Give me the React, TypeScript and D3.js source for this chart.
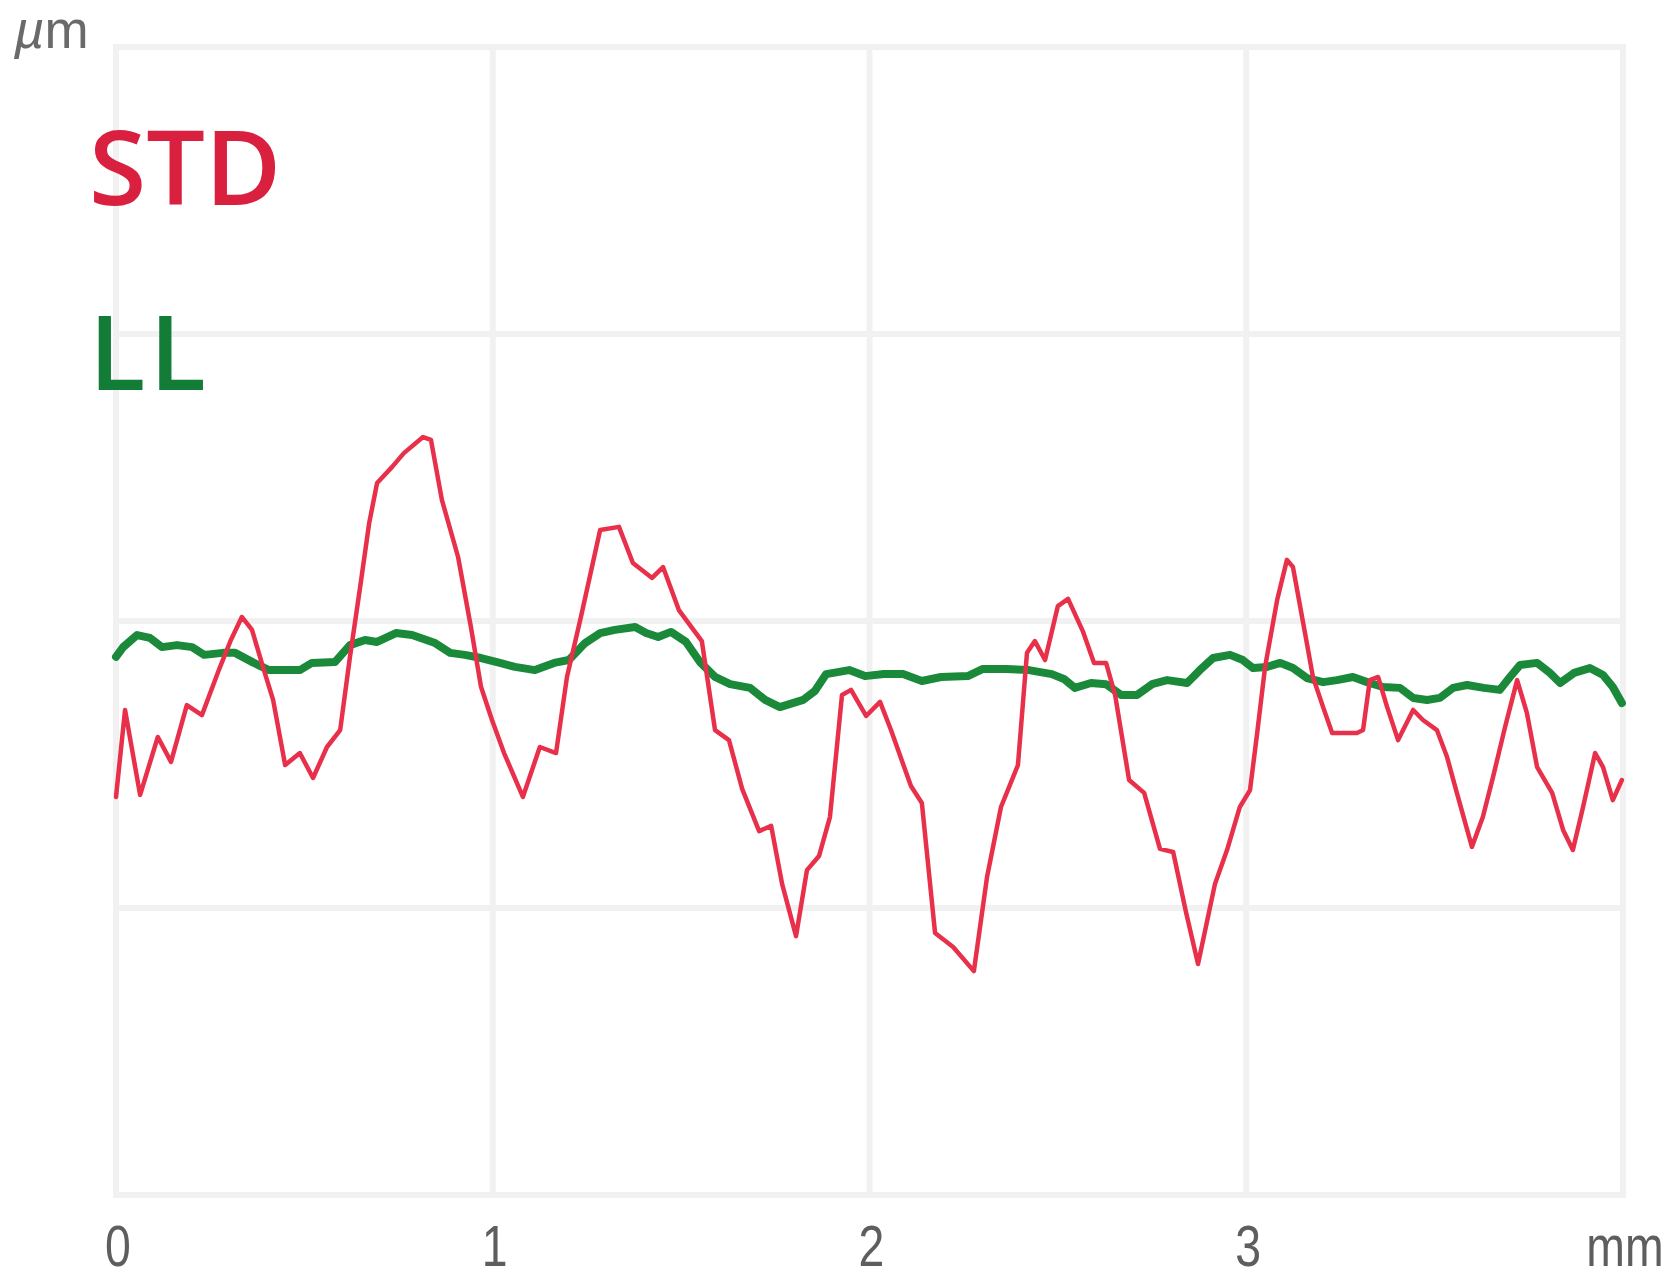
import React from "react";
import * as d3 from "d3";

const xTicks = [0, 1, 2, 3, 4];
const xTickLabels = ["0", "1", "2", "3", "mm"];
const yTicks = [-2, -1, 0, 1, 2];
const yUnit = "m";

const seriesNames = ["STD", "LL"];

// STD profile: [x in mm, height in µm]
const stdX = [
  0, 0.024, 0.064, 0.111, 0.146, 0.188, 0.228, 0.273, 0.305, 0.334, 0.361, 0.39, 0.417, 0.449, 0.488, 0.523,
  0.56, 0.595, 0.621, 0.648, 0.672, 0.693, 0.733, 0.764, 0.815, 0.836, 0.865, 0.908, 0.942, 0.969, 0.998,
  1.03, 1.08, 1.125, 1.168, 1.197, 1.234, 1.285, 1.335, 1.372, 1.423, 1.452, 1.494, 1.555, 1.59, 1.627,
  1.662, 1.707, 1.739, 1.768, 1.805, 1.834, 1.866, 1.895, 1.927, 1.951, 1.991, 2.028, 2.057, 2.11, 2.139,
  2.174, 2.222, 2.277, 2.312, 2.349, 2.394, 2.418, 2.439, 2.466, 2.5, 2.527, 2.567, 2.596, 2.628, 2.652,
  2.689, 2.729, 2.771, 2.806, 2.84, 2.872, 2.917, 2.949, 2.983, 3.01, 3.029, 3.05, 3.082, 3.108, 3.124,
  3.156, 3.177, 3.204, 3.228, 3.294, 3.31, 3.328, 3.35, 3.374, 3.403, 3.443, 3.469, 3.506, 3.533, 3.559,
  3.599, 3.628, 3.655, 3.687, 3.719, 3.745, 3.772, 3.812, 3.841, 3.867, 3.894, 3.926, 3.947, 3.973, 3.997,
];
const stdY = [
  -0.613, -0.31, -0.606, -0.404, -0.491, -0.293, -0.328, -0.171, -0.066, 0.014, -0.031, -0.16, -0.275, -0.502,
  -0.46, -0.547, -0.439, -0.38, -0.125, 0.118, 0.341, 0.481, 0.537, 0.585, 0.641, 0.631, 0.422, 0.223, -0.021,
  -0.23, -0.345, -0.46, -0.613, -0.439, -0.46, -0.195, 0.014, 0.317, 0.328, 0.202, 0.15, 0.188, 0.038, -0.07,
  -0.38, -0.415, -0.585, -0.732, -0.714, -0.916, -1.098, -0.868, -0.819, -0.683, -0.258, -0.24, -0.331, -0.282,
  -0.38, -0.575, -0.634, -1.087, -1.136, -1.22, -0.892, -0.648, -0.502, -0.111, -0.07, -0.136, 0.052, 0.077,
  -0.038, -0.146, -0.146, -0.258, -0.554, -0.599, -0.794, -0.805, -1.014, -1.195, -0.916, -0.798, -0.648,
  -0.589, -0.39, -0.16, 0.073, 0.213, 0.188, -0.042, -0.195, -0.3, -0.39, -0.39, -0.38, -0.206, -0.195, -0.3,
  -0.415, -0.31, -0.345, -0.38, -0.474, -0.599, -0.787, -0.683, -0.544, -0.369, -0.206, -0.321, -0.509, -0.599,
  -0.728, -0.798, -0.648, -0.46, -0.509, -0.624, -0.554,
];

// LL profile: [x in mm, height in µm]
const llX = [
  0, 0.019, 0.056, 0.09, 0.122, 0.162, 0.202, 0.234, 0.284, 0.316, 0.366, 0.406, 0.488, 0.52, 0.581, 0.621,
  0.661, 0.693, 0.743, 0.786, 0.847, 0.887, 0.926, 0.969, 1.019, 1.059, 1.112, 1.163, 1.202, 1.245, 1.285,
  1.324, 1.378, 1.407, 1.439, 1.473, 1.513, 1.55, 1.59, 1.63, 1.683, 1.723, 1.762, 1.824, 1.855, 1.885, 1.946,
  1.988, 2.038, 2.089, 2.139, 2.19, 2.261, 2.301, 2.362, 2.423, 2.484, 2.516, 2.545, 2.588, 2.628, 2.668, 2.71,
  2.75, 2.79, 2.843, 2.877, 2.912, 2.957, 2.991, 3.018, 3.055, 3.09, 3.124, 3.161, 3.204, 3.241, 3.283, 3.321,
  3.363, 3.408, 3.443, 3.48, 3.514, 3.549, 3.586, 3.631, 3.673, 3.7, 3.727, 3.772, 3.806, 3.833, 3.87, 3.912,
  3.947, 3.973, 3.997,
];
const llY = [
  -0.125, -0.091, -0.049, -0.059, -0.091, -0.084, -0.091, -0.118, -0.111, -0.111, -0.146, -0.171, -0.171,
  -0.146, -0.143, -0.084, -0.066, -0.073, -0.042, -0.049, -0.077, -0.111, -0.118, -0.129, -0.146, -0.16,
  -0.171, -0.146, -0.136, -0.077, -0.042, -0.031, -0.021, -0.042, -0.056, -0.038, -0.073, -0.143, -0.195,
  -0.22, -0.233, -0.275, -0.3, -0.275, -0.244, -0.185, -0.171, -0.192, -0.185, -0.185, -0.209, -0.195, -0.192,
  -0.167, -0.167, -0.171, -0.185, -0.202, -0.233, -0.216, -0.22, -0.258, -0.258, -0.22, -0.206, -0.216,
  -0.171, -0.129, -0.118, -0.136, -0.164, -0.16, -0.146, -0.164, -0.199, -0.213, -0.206, -0.195, -0.213,
  -0.23, -0.233, -0.268, -0.275, -0.268, -0.233, -0.223, -0.233, -0.24, -0.195, -0.153, -0.146, -0.181,
  -0.216, -0.181, -0.164, -0.188, -0.23, -0.286,
];

const W = 1675;
const H = 1278;

export default function App() {
  const x = d3.scaleLinear().domain([0, 4]).range([116, 1623]);
  const y = d3.scaleLinear().domain([-2, 2]).range([1195, 47]);

  const line = d3
    .line<[number, number]>()
    .x((d) => x(d[0]))
    .y((d) => y(d[1]))
    .curve(d3.curveLinear);

  const stdData: [number, number][] = stdX.map((v, i) => [v, stdY[i]]);
  const llData: [number, number][] = llX.map((v, i) => [v, llY[i]]);

  const gridColor = "#f1f1f1";
  const labelFont = "'Liberation Sans', Arial, sans-serif";

  return (
    <svg
      width={W}
      height={H}
      style={{ position: "absolute", left: 0, top: 0, display: "block", background: "#ffffff" }}
    >
      <rect x={0} y={0} width={W} height={H} fill="#ffffff" />
      {/* grid */}
      {yTicks.map((t) => (
        <line
          key={"h" + t}
          x1={x(0) - 3}
          x2={x(4) + 3}
          y1={y(t)}
          y2={y(t)}
          stroke={gridColor}
          strokeWidth={6}
        />
      ))}
      {xTicks.map((t) => (
        <line
          key={"v" + t}
          x1={x(t)}
          x2={x(t)}
          y1={y(2) - 3}
          y2={y(-2) + 3}
          stroke={gridColor}
          strokeWidth={6}
        />
      ))}

      {/* series */}
      <path d={line(llData) || ""} fill="none" stroke="#1a8a3a" strokeWidth={8} strokeLinejoin="round" strokeLinecap="round" />
      <path d={line(stdData) || ""} fill="none" stroke="#e8304a" strokeWidth={4.5} strokeLinejoin="round" strokeLinecap="round" />

      {/* x tick labels */}
      {xTicks.map((t, i) => (
        <text
          key={"xt" + t}
          transform={`translate(${x(t) + 2},1266) scale(0.8,1)`}
          textAnchor="middle"
          fontFamily={labelFont}
          fontSize={58}
          fill="#5e5e5e"
        >
          {xTickLabels[i]}
        </text>
      ))}

      {/* y unit */}
      <text x={14} y={48} fontFamily={labelFont} fontSize={53} fill="#6a6a6a">
        <tspan fontStyle="italic">µ</tspan>
        <tspan>{yUnit}</tspan>
      </text>

      {/* series labels */}
      <text
        x={89}
        y={205}
        fontFamily="'Open Sans', 'Noto Sans', sans-serif"
        fontSize={104}
        fontWeight={600}
        fill="#d9203f"
      >
        {seriesNames[0]}
      </text>
      <text
        x={89}
        y={390}
        fontFamily="'Open Sans', 'Noto Sans', sans-serif"
        fontSize={104}
        fontWeight={600}
        letterSpacing={4}
        fill="#137c36"
      >
        {seriesNames[1]}
      </text>
    </svg>
  );
}
